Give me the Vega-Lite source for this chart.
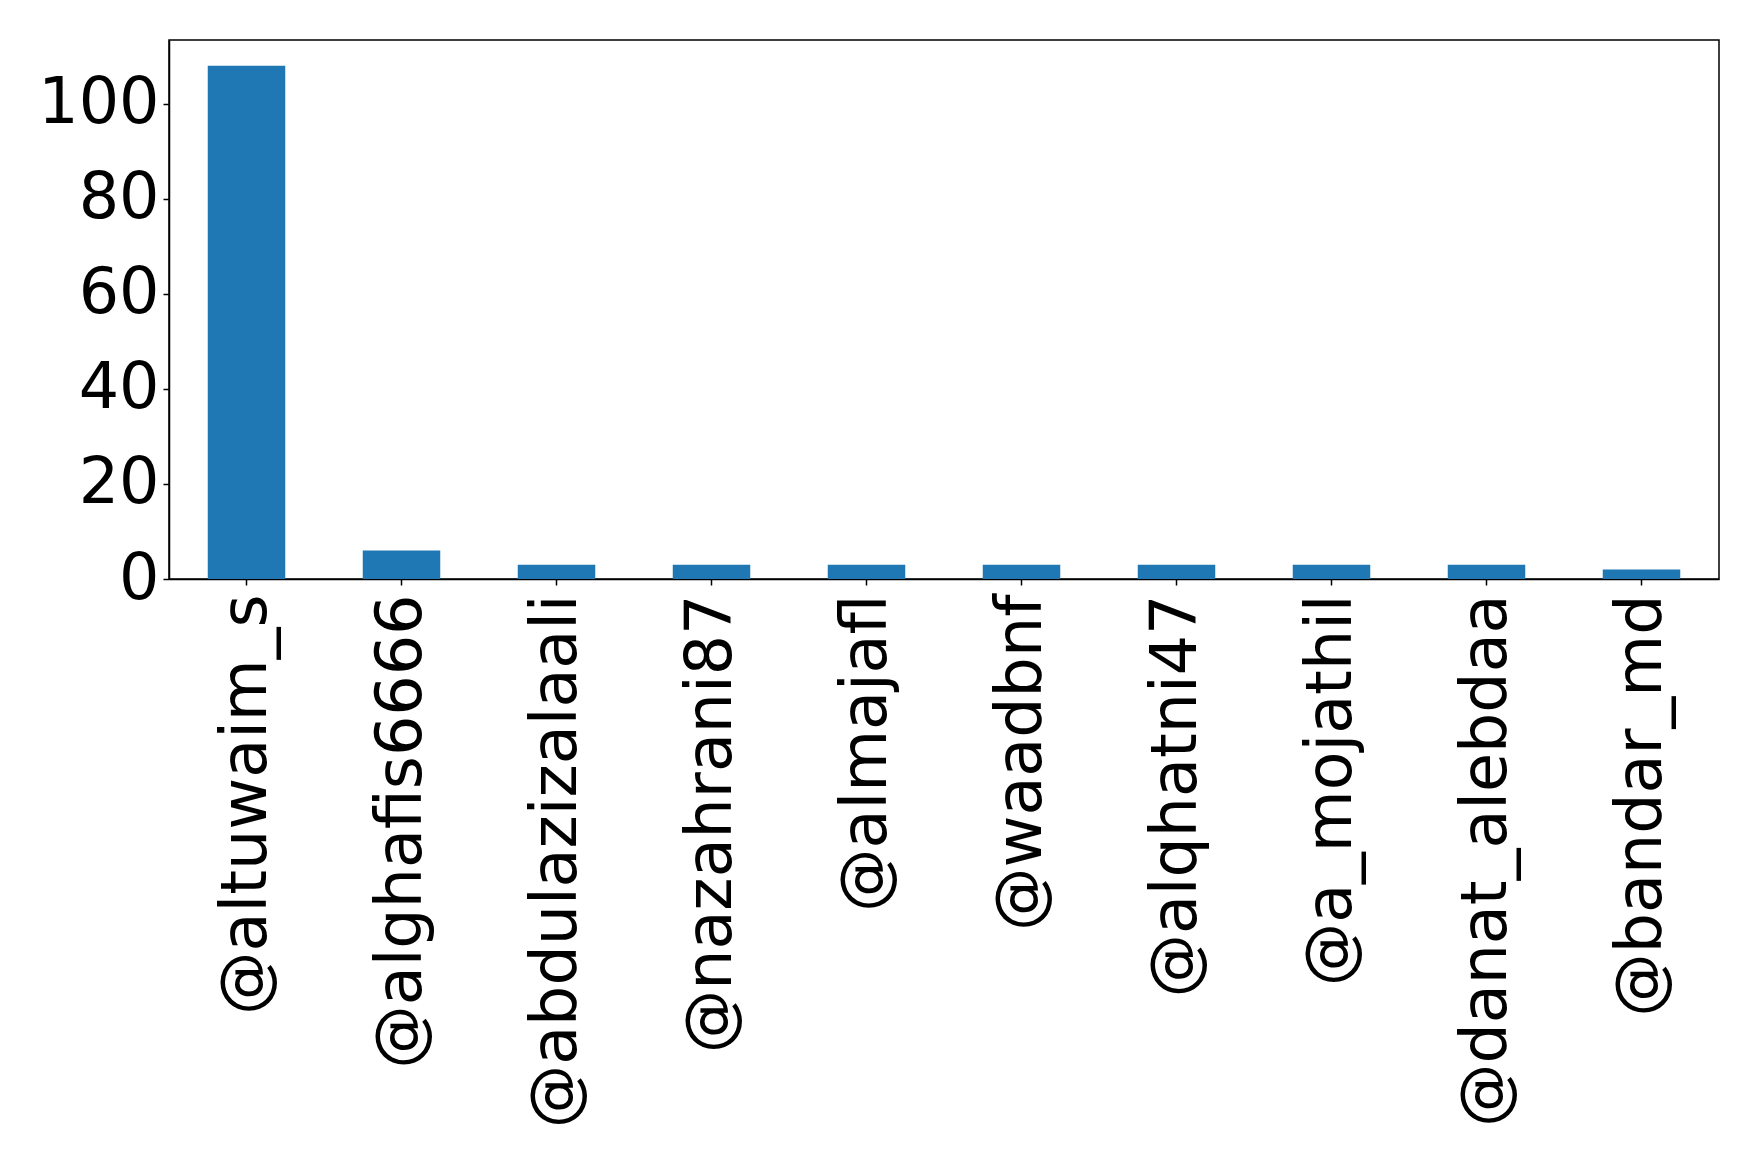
{
  "$schema": "https://vega.github.io/schema/vega-lite/v6.json",
  "autosize": {"type": "none"},
  "padding": {"left": 169, "top": 40, "right": 39, "bottom": 574},
  "width": 1550,
  "height": 539,
  "background": "white",
  "config": {
    "view": {"stroke": "black", "strokeWidth": 1.5},
    "font": "DejaVu Sans"
  },
  "data": {
    "values": [
      {"user": "@altuwaim_s", "count": 108},
      {"user": "@alghafis6666", "count": 6},
      {"user": "@abdulazizalaali", "count": 3},
      {"user": "@nazahrani87", "count": 3},
      {"user": "@almajafl", "count": 3},
      {"user": "@waadbnf", "count": 3},
      {"user": "@alqhatni47", "count": 3},
      {"user": "@a_mojathil", "count": 3},
      {"user": "@danat_alebdaa", "count": 3},
      {"user": "@bandar_md", "count": 2}
    ]
  },
  "mark": {"type": "bar", "color": "#1f77b4"},
  "encoding": {
    "x": {
      "field": "user",
      "type": "nominal",
      "sort": null,
      "scale": {"paddingInner": 0.5, "paddingOuter": 0.25},
      "axis": {
        "title": null,
        "labelAngle": -90,
        "labelFontSize": 63.5,
        "labelFont": "DejaVu Sans",
        "labelColor": "black",
        "labelPadding": 9,
        "tickSize": 6,
        "tickColor": "black",
        "tickWidth": 1.5,
        "domainColor": "black",
        "domainWidth": 1.5,
        "labelLimit": 0,
        "labelOverlap": false
      }
    },
    "y": {
      "field": "count",
      "type": "quantitative",
      "scale": {"domain": [0, 113.4], "nice": false},
      "axis": {
        "title": null,
        "values": [0, 20, 40, 60, 80, 100],
        "labelFontSize": 63.5,
        "labelFont": "DejaVu Sans",
        "labelColor": "black",
        "labelPadding": 4,
        "tickSize": 6,
        "tickColor": "black",
        "tickWidth": 1.5,
        "domainColor": "black",
        "domainWidth": 1.5,
        "grid": false,
        "labelOverlap": false,
        "labelFlush": false
      }
    }
  }
}
